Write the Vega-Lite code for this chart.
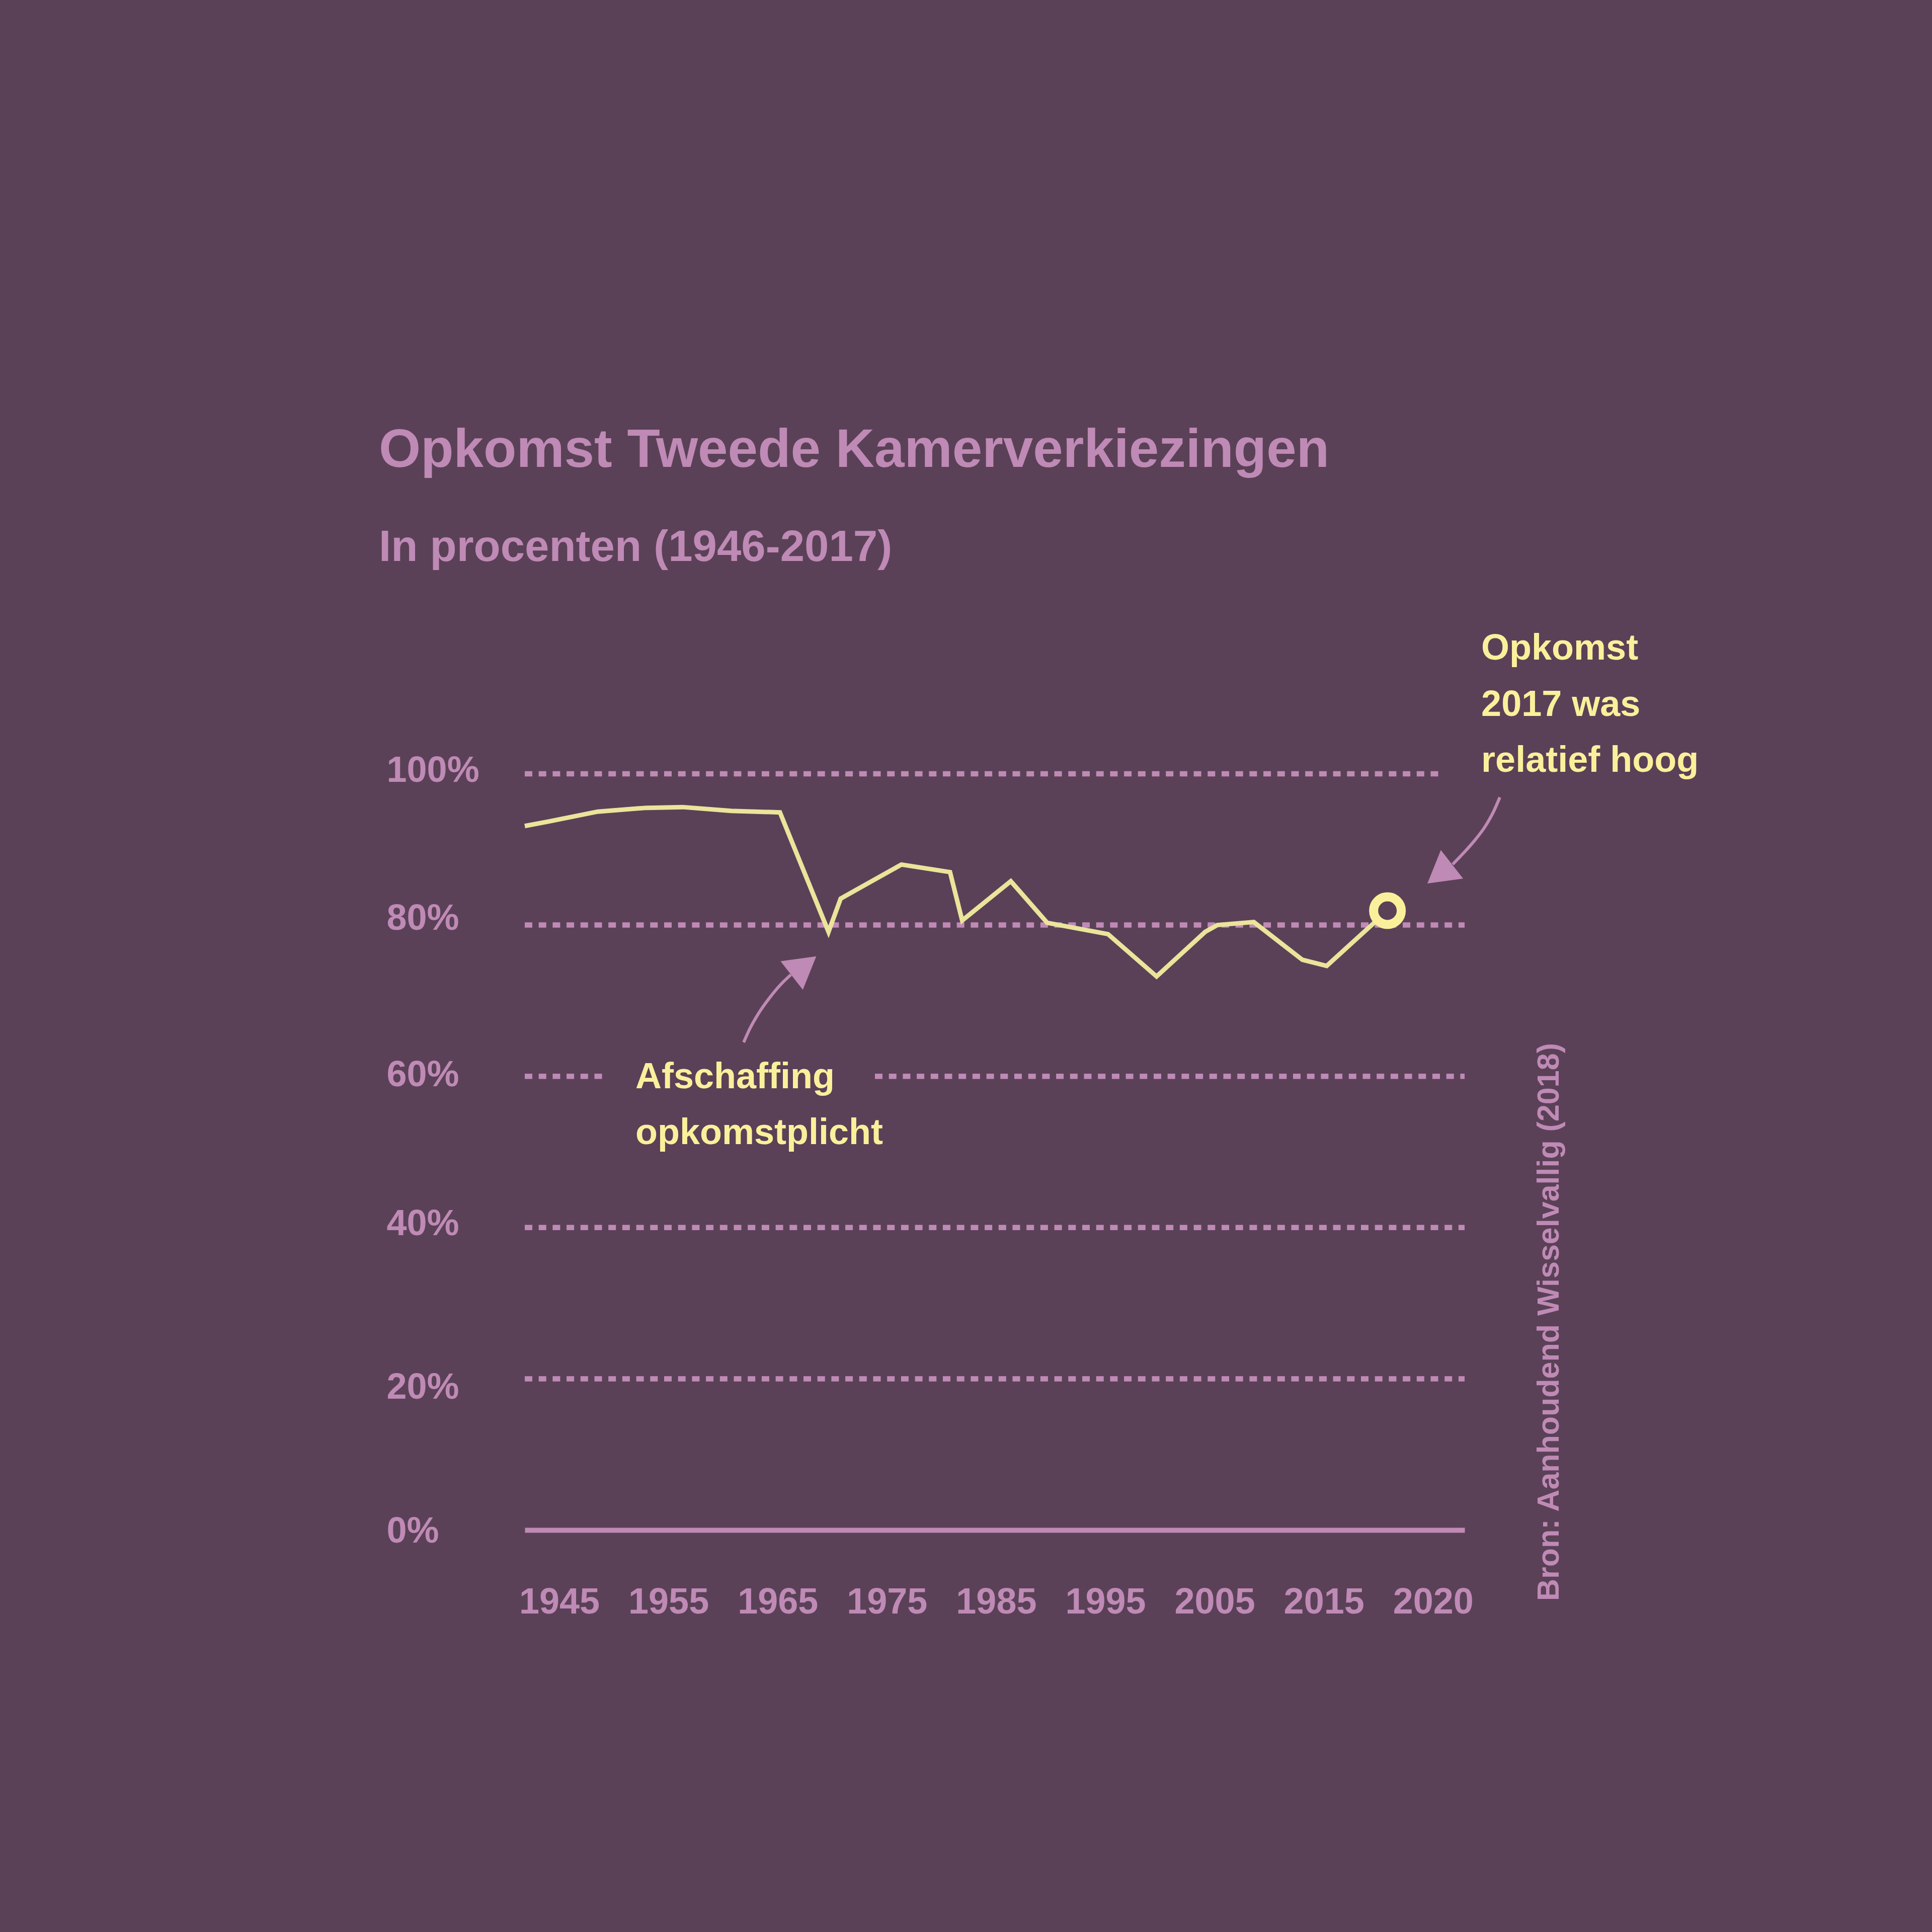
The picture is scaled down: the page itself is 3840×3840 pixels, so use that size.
{
  "$schema": "https://vega.github.io/schema/vega-lite/v6.json",
  "autosize": {"type": "none"},
  "width": 1868,
  "height": 1503,
  "padding": {"left": 1043, "top": 1538, "right": 929, "bottom": 799},
  "background": "#5A4157",
  "config": {"view": {"stroke": null}, "font": "Liberation Sans"},
  "title": {
    "text": "Opkomst Tweede Kamerverkiezingen",
    "subtitle": "In procenten (1946-2017)",
    "anchor": "start",
    "frame": "bounds",
    "orient": "top",
    "font": "Liberation Sans",
    "subtitleFont": "Liberation Sans",
    "fontSize": 107,
    "subtitleFontSize": 87,
    "fontWeight": "bold",
    "subtitleFontWeight": "bold",
    "color": "#BF8AB5",
    "subtitleColor": "#BF8AB5",
    "offset": 120,
    "subtitlePadding": 96,
    "dx": -15
  },
  "datasets": {
    "turnout": [
      {"year": 1946, "pct": 93.1}, {"year": 1948, "pct": 93.7}, {"year": 1952, "pct": 95.0},
      {"year": 1956, "pct": 95.5}, {"year": 1959, "pct": 95.6}, {"year": 1963, "pct": 95.1},
      {"year": 1967, "pct": 94.9}, {"year": 1971, "pct": 79.1}, {"year": 1972, "pct": 83.5},
      {"year": 1977, "pct": 88.0}, {"year": 1981, "pct": 87.0}, {"year": 1982, "pct": 80.6},
      {"year": 1986, "pct": 85.8}, {"year": 1989, "pct": 80.3}, {"year": 1994, "pct": 78.8},
      {"year": 1998, "pct": 73.2}, {"year": 2002, "pct": 79.1}, {"year": 2003, "pct": 80.0},
      {"year": 2006, "pct": 80.4}, {"year": 2010, "pct": 75.4}, {"year": 2012, "pct": 74.6},
      {"year": 2017, "pct": 81.9}
    ],
    "grid": [
      {"pct": 100, "from": 1946, "to": 2021.2},
      {"pct": 80, "from": 1946, "to": 2023.35},
      {"pct": 60, "from": 1946, "to": 1952.4},
      {"pct": 60, "from": 1974.82, "to": 2023.35},
      {"pct": 40, "from": 1946, "to": 2023.35},
      {"pct": 20, "from": 1946, "to": 2023.35}
    ],
    "arrowA": [
      {"year": 1964.017, "pct": 64.49},
      {"year": 1964.481, "pct": 66.15},
      {"year": 1965.218, "pct": 68.26},
      {"year": 1966.145, "pct": 70.37},
      {"year": 1967.068, "pct": 72.14},
      {"year": 1967.901, "pct": 73.43}
    ],
    "arrowB": [
      {"year": 2022.37, "pct": 88.03},
      {"year": 2023.26, "pct": 89.52},
      {"year": 2024.16, "pct": 91.15},
      {"year": 2025.06, "pct": 93.08},
      {"year": 2025.74, "pct": 95.02},
      {"year": 2026.25, "pct": 96.89}
    ],
    "headA": [{"year": 1968.98, "pct": 74.6}],
    "headB": [{"year": 2021.3, "pct": 86.76}],
    "notes": [
      {"text": "Afschaffing\nopkomstplicht", "year": 1955.11, "pct": 58.42},
      {"text": "Opkomst\n2017 was\nrelatief hoog", "year": 2024.72, "pct": 115.1}
    ],
    "source": [
      {"text": "Bron: Aanhoudend Wisselvallig (2018)", "year": 2031.09, "pct": -9.38}
    ]
  },
  "layer": [
    {
      "data": {"name": "grid"},
      "mark": {"type": "rule", "strokeDash": [15, 12.7], "strokeWidth": 10.5, "color": "#BF8AB5", "strokeCap": "butt"},
      "encoding": {
        "x": {
          "field": "from", "type": "quantitative",
          "scale": {"domain": [1946, 2023.35], "nice": false, "zero": false},
          "axis": {
            "title": null,
            "values": [1948.836, 1957.826, 1966.816, 1975.805, 1984.795, 1993.785, 2002.774, 2011.764, 2020.754],
            "labelExpr": "['1945','1955','1965','1975','1985','1995','2005','2015','2020'][round((datum.value - 1948.836) / 8.99)]",
            "ticks": false, "tickSize": 0, "grid": false,
            "domain": true, "domainColor": "#BF8AB5", "domainWidth": 10,
            "labelFont": "Liberation Sans", "labelFontWeight": "bold", "labelFontSize": 72,
            "labelColor": "#BF8AB5", "labelBaseline": "alphabetic", "labelAlign": "center",
            "labelPadding": 165, "labelFlush": false, "labelOverlap": false, "labelLimit": 0
          }
        },
        "x2": {"field": "to"},
        "y": {
          "field": "pct", "type": "quantitative",
          "scale": {"domain": [0, 100], "nice": false, "zero": false},
          "axis": {
            "title": null,
            "values": [0, 20, 40, 60, 80, 100],
            "labelExpr": "datum.value + '%'",
            "ticks": false, "tickSize": 0, "grid": false, "domain": false,
            "labelFont": "Liberation Sans", "labelFontWeight": "bold", "labelFontSize": 72,
            "labelColor": "#BF8AB5", "labelAlign": "left", "labelBaseline": "middle",
            "labelPadding": 275, "labelFlush": false, "labelOverlap": false, "labelLimit": 0,
            "labelOffset": {
              "condition": [
                {"test": "datum.value == 20", "value": 17},
                {"test": "datum.value == 80", "value": -13},
                {"test": "datum.value == 60", "value": -3},
                {"test": "datum.value == 0", "value": 2}
              ],
              "value": -7
            }
          }
        }
      }
    },
    {
      "data": {"name": "turnout"},
      "mark": {"type": "line", "color": "#EBE49B", "strokeWidth": 9, "strokeJoin": "miter"},
      "encoding": {
        "x": {"field": "year", "type": "quantitative"},
        "y": {"field": "pct", "type": "quantitative"}
      }
    },
    {
      "data": {"name": "turnout"},
      "transform": [{"filter": "datum.year == 2017"}],
      "mark": {"type": "point", "filled": true, "fill": "#5A4157", "stroke": "#FAF09B", "size": 3019, "strokeWidth": 18, "opacity": 1, "fillOpacity": 1, "strokeOpacity": 1},
      "encoding": {
        "x": {"field": "year", "type": "quantitative"},
        "y": {"field": "pct", "type": "quantitative"}
      }
    },
    {
      "data": {"name": "arrowA"},
      "mark": {"type": "line", "color": "#BF8AB5", "strokeWidth": 6, "interpolate": "monotone"},
      "encoding": {
        "x": {"field": "year", "type": "quantitative"},
        "y": {"field": "pct", "type": "quantitative"}
      }
    },
    {
      "data": {"name": "arrowB"},
      "mark": {"type": "line", "color": "#BF8AB5", "strokeWidth": 6, "interpolate": "monotone"},
      "encoding": {
        "x": {"field": "year", "type": "quantitative"},
        "y": {"field": "pct", "type": "quantitative"}
      }
    },
    {
      "data": {"name": "headA"},
      "mark": {"type": "point", "shape": "M0,-1L1.16,1L-1.16,1Z", "size": 3844, "filled": true, "color": "#BF8AB5", "opacity": 1, "strokeWidth": 0, "angle": 52},
      "encoding": {
        "x": {"field": "year", "type": "quantitative"},
        "y": {"field": "pct", "type": "quantitative"}
      }
    },
    {
      "data": {"name": "headB"},
      "mark": {"type": "point", "shape": "M0,-1L1.16,1L-1.16,1Z", "size": 3844, "filled": true, "color": "#BF8AB5", "opacity": 1, "strokeWidth": 0, "angle": 232},
      "encoding": {
        "x": {"field": "year", "type": "quantitative"},
        "y": {"field": "pct", "type": "quantitative"}
      }
    },
    {
      "data": {"name": "notes"},
      "mark": {"type": "text", "align": "left", "baseline": "alphabetic", "font": "Liberation Sans", "fontSize": 72, "fontWeight": "bold", "color": "#FAF09B", "lineBreak": "\n", "lineHeight": 111.5},
      "encoding": {
        "x": {"field": "year", "type": "quantitative"},
        "y": {"field": "pct", "type": "quantitative"},
        "text": {"field": "text", "type": "nominal"}
      }
    },
    {
      "data": {"name": "source"},
      "mark": {"type": "text", "align": "left", "baseline": "alphabetic", "angle": 270, "font": "Liberation Sans", "fontSize": 61, "fontWeight": "bold", "color": "#BF8AB5"},
      "encoding": {
        "x": {"field": "year", "type": "quantitative"},
        "y": {"field": "pct", "type": "quantitative"},
        "text": {"field": "text", "type": "nominal"}
      }
    }
  ]
}
